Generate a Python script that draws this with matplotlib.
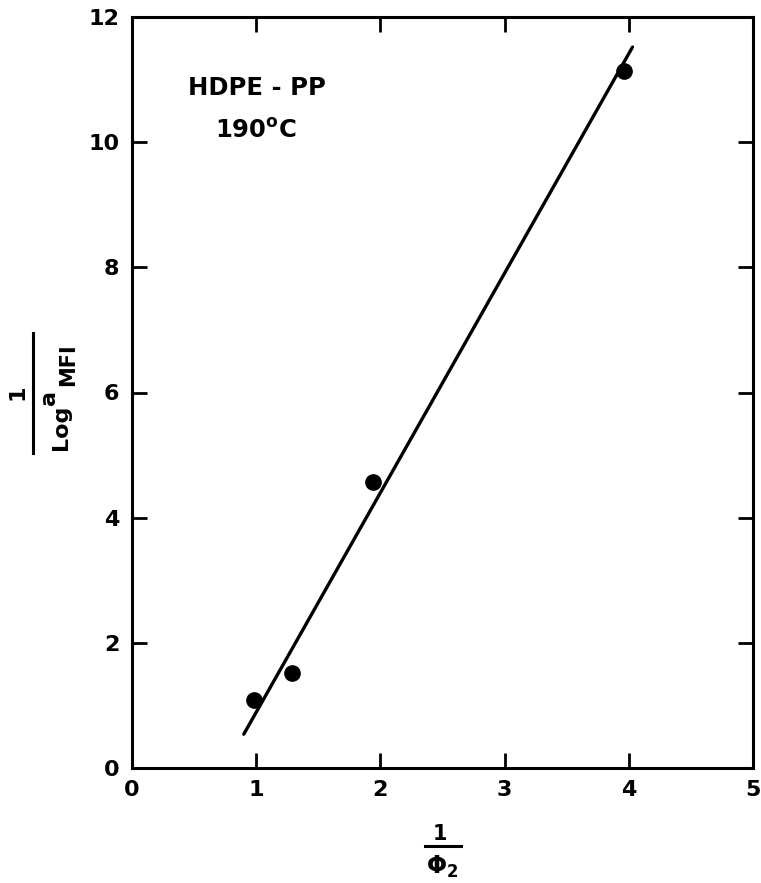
import matplotlib
matplotlib.use("Agg")
import matplotlib.pyplot as plt

# data
phi_inv = [0.98, 1.29, 1.94, 3.96]
log_a_inv = [1.08, 1.52, 4.57, 11.14]
fit_x = [0.90, 4.03]
fit_y = [0.54, 11.52]

xticks = [0, 1, 2, 3, 4, 5]
yticks = [0, 2, 4, 6, 8, 10, 12]

plt.rcParams['font.family'] = ['DejaVu Sans']
plt.rcParams['font.weight'] = 'bold'

W, H = 761, 883
fig = plt.figure(figsize=(W / 100, H / 100), dpi=100)
ax = fig.add_axes([132 / W, 1 - 768 / H, (753 - 132) / W, (768 - 17) / H])

ax.plot(fit_x, fit_y, color='black', lw=2.4, solid_capstyle='round')
ax.plot(phi_inv, log_a_inv, 'o', color='black', ms=11)

ax.set_xlim(0, 5)
ax.set_ylim(0, 12)
ax.set_xticks(xticks)
ax.set_yticks(yticks)
ax.tick_params(direction='in', length=11, width=2.0, top=True, right=True,
               labelsize=16, pad=9)
for lab in ax.get_xticklabels() + ax.get_yticklabels():
    lab.set_fontweight('bold')
for s in ax.spines.values():
    s.set_linewidth(2.2)


def px(x, y):
    return x / W, 1 - y / H


# annotations
fig.text(*px(257, 88), 'HDPE - PP', ha='center', va='center',
         fontsize=17.5, fontweight='bold')
fig.text(*px(256, 131), '190$^{\\mathbf{o}}$C', ha='center', va='center',
         fontsize=17.5, fontweight='bold')

# y label as fraction
fig.text(*px(17, 392), '1', rotation=90, ha='center', va='center',
         fontsize=16, fontweight='bold')
fig.add_artist(plt.Line2D([33 / W, 33 / W], [1 - 333 / H, 1 - 453 / H],
                          color='black', lw=2.2, transform=fig.transFigure))
fig.text(*px(67, 450), 'Log', rotation=90, rotation_mode='anchor',
         ha='left', va='baseline', fontsize=16, fontweight='bold')
fig.text(*px(55, 405), 'a', rotation=90, rotation_mode='anchor',
         ha='left', va='baseline', fontsize=16, fontweight='bold')
fig.text(*px(74, 386), 'MFI', rotation=90, rotation_mode='anchor',
         ha='left', va='baseline', fontsize=15, fontweight='bold')

# x label as fraction
fig.text(*px(440, 834), '1', ha='center', va='center',
         fontsize=15, fontweight='bold')
fig.add_artist(plt.Line2D([425 / W, 461 / W], [1 - 846 / H, 1 - 846 / H],
                          color='black', lw=2.2, transform=fig.transFigure))
fig.text(*px(442, 867), r'$\mathbf{\Phi}_{\mathbf{2}}$', ha='center',
         va='center', fontsize=17, fontweight='bold')

fig.savefig('out.png', dpi=100)
